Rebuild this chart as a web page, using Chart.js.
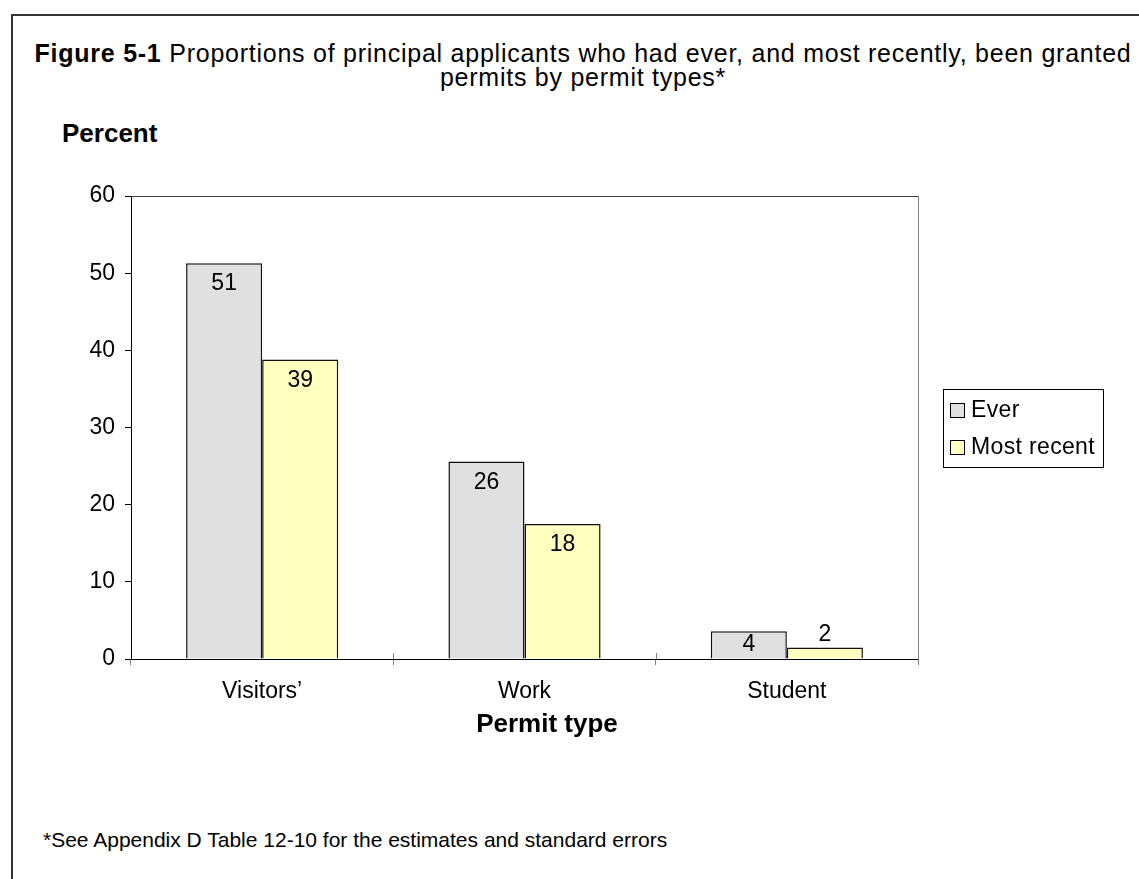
<!DOCTYPE html>
<html lang="en">
<head>
  <meta charset="UTF-8" />
  <title>Figure 5-1</title>
  <script src="https://cdn.jsdelivr.net/npm/chart.js"></script>
  <style>
    body, html { margin: 0; padding: 0; background: #fff; font-family: "Liberation Sans", Arial, sans-serif; }
    #page { position: relative; width: 1139px; height: 879px; overflow: hidden; }
    #frame { position: absolute; left: 11px; top: 14px; width: 1300px; height: 1000px;
             border-left: 2px solid #333; border-top: 2px solid #333; }
    #title { position: absolute; left: 23px; width: 1120px; top: 41px; text-align: center;
             font-size: 25px; line-height: 24px; letter-spacing: 0.75px; color: #000; white-space: nowrap; }
    #ylabel { position: absolute; left: 62px; top: 120px; font-size: 26px; line-height: 26px; font-weight: bold; }
    #note { position: absolute; left: 43px; top: 829px; font-size: 21px; line-height: 21px; }
    canvas { position: absolute; left: 0; top: 0; }
  </style>
</head>
<body>
  <div id="page">
    <div id="frame"></div>
    <div id="title"><b>Figure 5-1</b> Proportions of principal applicants who had ever, and most recently, been granted<br>permits by permit types*</div>
    <div id="ylabel">Percent</div>
    <div id="note">*See Appendix D Table 12-10 for the estimates and standard errors</div>
    <canvas id="permitChart" width="1139" height="879"></canvas>
  </div>

  <script>
    const categories = ['Visitors\u2019', 'Work', 'Student'];
    const everValues = [51.3, 25.6, 3.6];
    const recentValues = [38.8, 17.5, 1.5];
    const yTicks = [0, 10, 20, 30, 40, 50, 60];
    const seriesNames = ['Ever', 'Most recent'];
    const xTitle = 'Permit type';

    const FONT = '"Liberation Sans", Arial, sans-serif';
    Chart.defaults.font.family = FONT;
    Chart.defaults.color = '#000';

    // Zahlen in/über den Balken
    const barLabels = {
      id: 'barLabels',
      afterDatasetsDraw(chart) {
        const ctx = chart.ctx;
        ctx.save();
        ctx.font = '23px ' + FONT;
        ctx.fillStyle = '#000';
        ctx.textAlign = 'center';
        ctx.textBaseline = 'middle';
        chart.data.datasets.forEach((ds, i) => {
          chart.getDatasetMeta(i).data.forEach((bar, j) => {
            const h = bar.base - bar.y;
            let y;
            if (h >= 40) y = bar.y + 21;
            else if (h >= 22) y = (bar.y + bar.base) / 2;
            else y = bar.y - 13;
            ctx.fillText(String(Math.round(ds.data[j])), bar.x, y);
          });
        });
        ctx.restore();
      }
    };

    // Rahmen oben/rechts um die Plotfläche + Striche zwischen den Kategorien
    const plotFrame = {
      id: 'plotFrame',
      beforeDatasetsDraw(chart) {
        const a = chart.chartArea;
        const ctx = chart.ctx;
        const xs = chart.scales.x;
        ctx.save();
        ctx.lineWidth = 1;
        ctx.strokeStyle = '#404040';
        ctx.beginPath();
        ctx.moveTo(a.left, a.top + 0.5);
        ctx.lineTo(a.right + 0.5, a.top + 0.5);
        ctx.stroke();
        ctx.strokeStyle = '#808080';
        ctx.beginPath();
        ctx.moveTo(a.right + 0.5, a.top);
        ctx.lineTo(a.right + 0.5, a.bottom + 6);
        for (let i = 0; i < categories.length - 1; i++) {
          const bx = Math.round((xs.getPixelForValue(i) + xs.getPixelForValue(i + 1)) / 2) + 0.5;
          ctx.moveTo(bx, a.bottom - 6);
          ctx.lineTo(bx, a.bottom);
        }
        ctx.stroke();
        ctx.restore();
      }
    };

    // Achsentitel (leicht nach rechts versetzt wie im Original)
    const axisTitle = {
      id: 'axisTitle',
      afterDraw(chart) {
        const ctx = chart.ctx;
        ctx.save();
        ctx.font = 'bold 26px ' + FONT;
        ctx.fillStyle = '#000';
        ctx.textAlign = 'center';
        ctx.textBaseline = 'middle';
        ctx.fillText(xTitle, 547, 725);
        ctx.restore();
      }
    };

    // Legende mit Kasten
    const boxLegend = {
      id: 'boxLegend',
      afterDraw(chart) {
        const ctx = chart.ctx;
        ctx.save();
        ctx.strokeStyle = '#000';
        ctx.lineWidth = 1;
        ctx.strokeRect(943.5, 389.5, 160, 78);
        ctx.font = '23px ' + FONT;
        if ('letterSpacing' in ctx) ctx.letterSpacing = '0.35px';
        ctx.textBaseline = 'alphabetic';
        chart.data.datasets.forEach((ds, i) => {
          const base = 417 + i * 37;
          ctx.fillStyle = ds.backgroundColor;
          ctx.fillRect(950, base - 14, 15, 15);
          ctx.strokeStyle = '#000';
          ctx.strokeRect(950.5, base - 13.5, 14, 14);
          ctx.fillStyle = '#000';
          ctx.fillText(ds.label, 971, base);
        });
        ctx.restore();
      }
    };

    new Chart(document.getElementById('permitChart'), {
      type: 'bar',
      data: {
        labels: categories,
        datasets: [
          {
            label: seriesNames[0],
            data: everValues,
            backgroundColor: '#e0e0e0',
            borderColor: '#111',
            borderWidth: 1.5,
            barPercentage: 1,
            categoryPercentage: 0.58
          },
          {
            label: seriesNames[1],
            data: recentValues,
            backgroundColor: '#ffffc0',
            borderColor: '#111',
            borderWidth: 1.5,
            barPercentage: 1,
            categoryPercentage: 0.58
          }
        ]
      },
      options: {
        responsive: false,
        animation: false,
        layout: { padding: { top: 196, right: 221, bottom: 0, left: 0 } },
        plugins: {
          legend: { display: false },
          tooltip: { enabled: false }
        },
        scales: {
          x: {
            grid: { offset: true, drawOnChartArea: false, tickLength: 6, color: '#808080' },
            border: { color: '#000', width: 1 },
            ticks: { color: '#000', font: { size: 23 }, padding: 13 },
            afterFit(scale) { scale.height = 220; }
          },
          y: {
            min: 0, max: 60,
            afterBuildTicks(scale) { scale.ticks = yTicks.map(v => ({ value: v })); },
            ticks: { color: '#000', font: { size: 23 }, padding: 10 },
            grid: { drawOnChartArea: false, tickLength: 6, color: '#000' },
            border: { color: '#000' },
            afterFit(scale) { scale.width = 131; }
          }
        }
      },
      plugins: [plotFrame, barLabels, axisTitle, boxLegend]
    });
  </script>
</body>
</html>
